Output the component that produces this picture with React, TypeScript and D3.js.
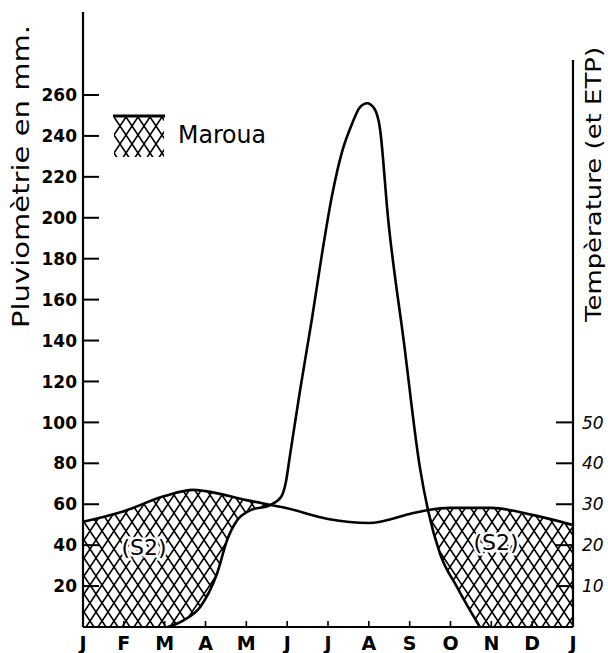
import React from "react";
import * as d3 from "d3";

// Month labels along the x axis (13 ticks, J to J)
const months = ["J", "F", "M", "A", "M", "J", "J", "A", "S", "O", "N", "D", "J"];

// Rainfall (mm) at month positions (0 = January ... 12 = next January)
const rainPos = [2.08, 2.47, 2.87, 3.28, 3.53, 3.77, 4.09, 4.58, 4.85, 4.97, 5.07, 5.31, 5.61, 5.85, 6.1, 6.34, 6.59, 6.78, 6.96, 7.13, 7.27, 7.47, 7.86, 8.25, 8.45, 8.74, 9.16, 9.43, 9.72];
const rainMm = [0, 3.4, 9.8, 26, 42.5, 52, 57, 59.6, 63.5, 71, 84, 115, 151, 182, 211, 232, 246, 254, 256, 253.5, 244, 200, 139, 78, 57, 36, 19.5, 9.8, 0];

// Temperature (°C) at month positions
const tempPos = [0, 1, 2, 2.7, 3, 4, 5, 6, 7, 8, 8.45, 9, 10, 11, 12];
const tempC = [25.7, 28.3, 32, 33.5, 33.2, 31, 29, 26.4, 25.4, 27.6, 28.6, 29.1, 29.1, 27.4, 24.9];

// Axis tick values
const rainTicks = [20, 40, 60, 80, 100, 120, 140, 160, 180, 200, 220, 240, 260];
const tempTicks = [10, 20, 30, 40, 50];

export default function App() {
  const W = 608, H = 653;
  const x = d3.scaleLinear().domain([0, 12]).range([83, 573]);
  const y = d3.scaleLinear().domain([0, 260]).range([627, 95]);
  const yT = d3.scaleLinear().domain([0, 130]).range([627, 95]);

  const tempPts: [number, number][] = tempPos.map((p, i) => [x(p), yT(tempC[i])]);
  const rainPts: [number, number][] = rainPos.map((p, i) => [x(p), y(rainMm[i])]);

  const line = d3.line<[number, number]>().x(d => d[0]).y(d => d[1]).curve(d3.curveMonotoneX);
  const area = d3.area<[number, number]>().x(d => d[0]).y0(y(0)).y1(d => d[1]).curve(d3.curveMonotoneX);

  const font = "'DejaVu Sans', sans-serif";

  return (
    <svg width={W} height={H} style={{ position: "absolute", left: 0, top: 0, background: "#fff" }}>
      <defs>
        <pattern id="hatch" patternUnits="userSpaceOnUse" width={12} height={18}>
          <path d="M-3,-4.5 L15,22.5 M15,-4.5 L-3,22.5" stroke="#000" strokeWidth={1.6} fill="none" />
        </pattern>
      </defs>
      <rect x={0} y={0} width={W} height={H} fill="#fff" />

      {/* hatched deficit areas */}
      <path d={area(tempPts) || ""} fill="url(#hatch)" />
      <path d={area(rainPts) || ""} fill="#fff" />

      {/* curves */}
      <path d={line(tempPts) || ""} fill="none" stroke="#000" strokeWidth={2.6} />
      <path d={line(rainPts) || ""} fill="none" stroke="#000" strokeWidth={2.6} />

      {/* left axis */}
      <line x1={x(0)} x2={x(0)} y1={12} y2={y(0)} stroke="#000" strokeWidth={2.2} />
      {rainTicks.map(t => (
        <g key={"l" + t}>
          <line x1={x(0)} x2={x(0) + 16} y1={y(t)} y2={y(t)} stroke="#000" strokeWidth={2} />
          <text x={x(0) - 6} y={y(t)} dy="0.36em" textAnchor="end" fontFamily={font} fontWeight="bold" fontSize={17}>{t}</text>
        </g>
      ))}

      {/* right axis */}
      <line x1={x(12)} x2={x(12)} y1={60} y2={y(0)} stroke="#000" strokeWidth={2.2} />
      {tempTicks.map(t => (
        <g key={"r" + t}>
          <line x1={x(12) - 17} x2={x(12)} y1={yT(t)} y2={yT(t)} stroke="#000" strokeWidth={2} />
          <text x={x(12) + 9} y={yT(t)} dy="0.36em" textAnchor="start" fontFamily={font} fontStyle="italic" fontSize={17}>{t}</text>
        </g>
      ))}

      {/* bottom axis */}
      <line x1={x(0)} x2={x(12)} y1={y(0)} y2={y(0)} stroke="#000" strokeWidth={2.2} />
      {months.map((m, i) => (
        <g key={"m" + i}>
          <line x1={x(i)} x2={x(i)} y1={y(0)} y2={y(0) - 6} stroke="#000" strokeWidth={1.6} />
          <text x={x(i)} y={650} textAnchor="middle" fontFamily={font} fontWeight="bold" fontSize={19}>{m}</text>
        </g>
      ))}

      {/* axis titles */}
      <text transform="translate(29,328) rotate(-90)" fontFamily={font} fontSize={23} textLength={303} lengthAdjust="spacingAndGlyphs">Pluviomètrie en mm.</text>
      <text transform="translate(601,322) rotate(-90)" fontFamily={font} fontSize={22} textLength={275} lengthAdjust="spacingAndGlyphs">Tempèrature (et ETP)</text>

      {/* legend */}
      <rect x={114} y={117} width={50} height={40} fill="url(#hatch)" />
      <line x1={113} x2={165} y1={116} y2={116} stroke="#000" strokeWidth={3} />
      <text x={178} y={143} fontFamily={font} fontSize={24} textLength={88} lengthAdjust="spacingAndGlyphs">Maroua</text>

      {/* S2 labels */}
      <text x={144} y={555} textAnchor="middle" fontFamily={font} fontSize={22} stroke="#fff" strokeWidth={5} paintOrder="stroke" fill="#000">(S2)</text>
      <text x={496} y={550} textAnchor="middle" fontFamily={font} fontSize={22} stroke="#fff" strokeWidth={5} paintOrder="stroke" fill="#000">(S2)</text>
    </svg>
  );
}
